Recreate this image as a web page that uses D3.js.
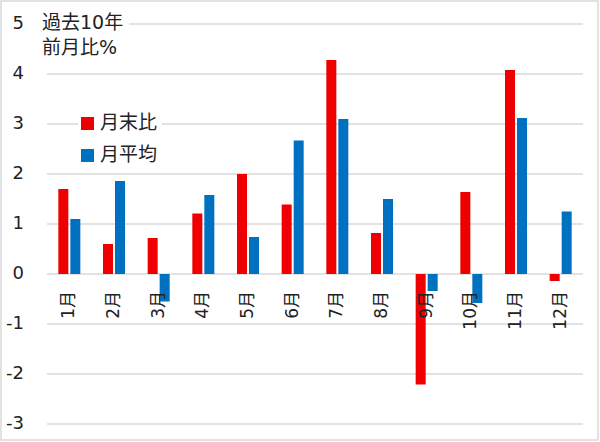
<!DOCTYPE html>
<html><head><meta charset="utf-8">
<script src="https://cdn.jsdelivr.net/npm/d3@7"></script>
<style>
html,body{margin:0;padding:0;background:#fff;}
text{font-family:"DejaVu Sans","Noto Sans CJK JP",sans-serif;fill:#222;}
</style></head>
<body><svg id="c" width="600" height="442"></svg>
<script>
const months = ["1月","2月","3月","4月","5月","6月","7月","8月","9月","10月","11月","12月"];
const seriesNames = ["月末比","月平均"];
const monthEnd = [1.70,0.60,0.72,1.21,2.00,1.39,4.28,0.82,-2.21,1.64,4.08,-0.14];
const monthAvg = [1.10,1.86,-0.55,1.58,0.74,2.67,3.10,1.50,-0.34,-0.58,3.12,1.25];
const yTicks = [5,4,3,2,1,0,-1,-2,-3];
const colors = ["#ee0000","#0070c0"];
const titleLines = ["過去10年","前月比%"];

const svg = d3.select("#c");
svg.append("rect").attr("x",1).attr("y",1).attr("width",597).attr("height",439)
  .attr("fill","#fff").attr("stroke","#d9d9d9").attr("stroke-width",1.5);

const x = d3.scaleBand().domain(months).range([47,583]).padding(0);
const bw = x.bandwidth();
const x1 = d3.scaleBand().domain(seriesNames).range([bw/2-11,bw/2+11]).paddingInner(2/12);
const y = d3.scaleLinear().domain([-3,5]).range([424,24]);

// gridlines
svg.append("g").selectAll("line").data(yTicks).join("line")
  .attr("x1",47).attr("x2",583).attr("y1",d=>y(d)).attr("y2",d=>y(d))
  .attr("stroke","#d9d9d9").attr("stroke-width",1.5);

// y labels
svg.append("g").selectAll("text").data(yTicks).join("text")
  .attr("x",24).attr("y",d=>y(d)-2).attr("text-anchor","end")
  .attr("dominant-baseline","central").attr("font-size",18)
  .text(d=>d<0?"-"+Math.abs(d):String(d));

// bars
const data = months.map((m,i)=>({m, vals:[monthEnd[i],monthAvg[i]]}));
const g = svg.append("g");
data.forEach(d=>{
  d.vals.forEach((v,j)=>{
    g.append("rect")
      .attr("x",x(d.m)+x1(seriesNames[j]))
      .attr("width",x1.bandwidth())
      .attr("y",y(Math.max(0,v)))
      .attr("height",Math.abs(y(v)-y(0)))
      .attr("fill",colors[j]);
  });
});

// x labels
svg.append("g").selectAll("text").data(months).join("text")
  .attr("transform",d=>`translate(${x(d)+bw/2-1},291) rotate(-90)`)
  .attr("text-anchor","end").attr("dominant-baseline","central")
  .attr("font-size",17).text(d=>d);

// title
svg.append("rect").attr("x",40).attr("y",6).attr("width",89).attr("height",54).attr("fill","#fff");
svg.append("g").selectAll("text").data(titleLines).join("text")
  .attr("x",42).attr("y",(d,i)=>21.5+25*i).attr("dominant-baseline","central")
  .attr("font-size",19).text(d=>d);

// legend
const lg = svg.append("g");
lg.append("rect").attr("x",78).attr("y",108).attr("width",84).attr("height",60).attr("fill","#fff");
seriesNames.forEach((s,i)=>{
  lg.append("rect").attr("x",81).attr("y",117+32*i).attr("width",13).attr("height",13).attr("fill",colors[i]);
  lg.append("text").attr("x",100).attr("y",122+32*i).attr("dominant-baseline","central")
    .attr("font-size",19).text(s);
});
</script></body></html>
